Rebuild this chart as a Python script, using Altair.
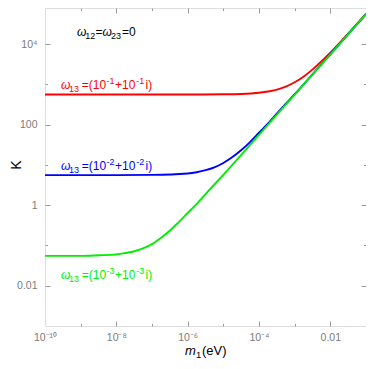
import altair as alt
import pandas as pd

# ---- data (m1 in eV, K) ----
red_m = [1e-10, 1e-6, 1e-5, 3.2e-5, 1e-4, 1.8e-4, 3.2e-4, 5.6e-4, 1e-3, 1.8e-3, 3.2e-3, 5.6e-3, 1e-2, 1.8e-2, 3.2e-2, 1e-1]
red_K = [562, 562, 568, 580, 620, 665, 745, 880, 1130, 1580, 2360, 3700, 6150, 10600, 18500, 56600]

blue_m = [1e-10, 1e-8, 1e-7, 1e-6, 1.8e-6, 3.2e-6, 5.6e-6, 1e-5, 1.8e-5, 3.2e-5, 5.6e-5, 1e-4, 1.8e-4, 3.2e-4, 5.6e-4, 1e-3, 3.2e-3, 1e-2, 1e-1]
blue_K = [5.6, 5.6, 5.66, 6.15, 6.6, 7.4, 8.7, 11.2, 15.7, 23.5, 37, 63, 108, 190, 328, 570, 1800, 5610, 56000]

green_m = [1e-10, 1e-9, 3.2e-9, 1e-8, 1.8e-8, 3.2e-8, 5.6e-8, 1e-7, 1.8e-7, 3.2e-7, 5.6e-7, 1e-6, 1.8e-6, 3.2e-6, 1e-5, 1e-4, 1e-3, 1e-2, 1e-1]
green_K = [0.055, 0.055, 0.057, 0.060, 0.065, 0.072, 0.085, 0.108, 0.155, 0.235, 0.38, 0.64, 1.08, 1.9, 5.7, 56, 560, 5600, 56000]

x_label_values = [1e-10, 1e-8, 1e-6, 1e-4, 1e-2]
y_label_values = [0.01, 1, 100, 1e4]
x_tick_values = [1e-9, 1e-8, 1e-7, 1e-6, 1e-5, 1e-4, 1e-3, 1e-2]
y_tick_values = [1e-2, 1e-1, 1, 10, 100, 1e3, 1e4]

# rich-text labels: (text, kind) with kind in base / ital / sub / sup
label_red = [("ω", "ital"), ("13", "sub"), ("=(10", "base"), ("-1", "sup"), ("+10", "base"), ("-1", "sup"), ("i)", "base")]
label_blue = [("ω", "ital"), ("13", "sub"), ("=(10", "base"), ("-2", "sup"), ("+10", "base"), ("-2", "sup"), ("i)", "base")]
label_green = [("ω", "ital"), ("13", "sub"), ("=(10", "base"), ("-3", "sup"), ("+10", "base"), ("-3", "sup"), ("i)", "base")]
label_top = [("ω", "ital"), ("12", "sub"), ("=", "base"), ("ω", "ital"), ("23", "sub"), ("=0", "base")]
x_title = [("m", "ital"), ("1", "sub"), ("(eV)", "base")]
y_title = "K"

# layout (pixel offsets of each piece)
curve_dx = [0, 8, 20.7, 45.5, 54, 75.2, 84.5]
top_dx = [0, 8.3, 18.5, 25.5, 34, 45]
xt_dx = [0, 11, 17]

RED, BLUE, GREEN = "#ff0000", "#0000ff", "#00ee00"
FRAME = "#9a9a9a"
LAB = "#7a7a7a"
FONT = "Liberation Sans"
W, H = 321, 318
X_DOM = [1e-10, 1e-1]
Y_DOM = [1e-3, 7.9e4]

rows = []
for name, ms, ks in [("r", red_m, red_K), ("b", blue_m, blue_K), ("g", green_m, green_K)]:
    for i, (m, k) in enumerate(zip(ms, ks)):
        rows.append({"s": name, "m": m, "K": k, "i": i})
df = pd.DataFrame(rows)

xs = alt.Scale(type="log", domain=X_DOM, nice=False)
ys = alt.Scale(type="log", domain=Y_DOM, nice=False)

x_lab_expr = ("datum.value < 3e-10 ? '10⁻¹⁰' : datum.value < 3e-8 ? '10⁻⁸' : "
              "datum.value < 3e-6 ? '10⁻⁶' : datum.value < 3e-4 ? '10⁻⁴' : '0.01'")
y_lab_expr = ("datum.value > 1000 ? '10⁴' : datum.value > 10 ? '100' : "
              "datum.value > 0.1 ? '1' : '0.01'")

x_label_axis = alt.Axis(values=x_label_values, labelExpr=x_lab_expr, ticks=False, domain=False,
                        grid=False, title=None, labelColor=LAB, labelFont=FONT, labelFontSize=10.5,
                        labelPadding=6, labelFlush=False, labelOverlap=False)
y_label_axis = alt.Axis(values=y_label_values, labelExpr=y_lab_expr, ticks=False, domain=False,
                        grid=False, title=None, labelColor=LAB, labelFont=FONT, labelFontSize=10.5,
                        labelPadding=8, labelOverlap=False)

tick_cond = {"condition": {"test": "round(log(datum.value)/LN10) % 2 == 0", "value": 5}, "value": 2.5}


def tick_axis(values, orient, offset):
    return alt.Axis(values=values, orient=orient, offset=offset, labels=False, domain=False,
                    grid=False, title=None, tickColor=FRAME, tickWidth=1, tickSize=tick_cond)


def line_layer(name, color, xaxis=None, yaxis=None):
    return alt.Chart(df).transform_filter(alt.datum.s == name).mark_line(
        color=color, strokeWidth=1.9, interpolate="monotone", clip=True
    ).encode(
        x=alt.X("m:Q", scale=xs, axis=xaxis),
        y=alt.Y("K:Q", scale=ys, axis=yaxis),
        order="i:Q",
    )


def ghost_layer(xaxis, yaxis):
    return alt.Chart(df).mark_line(opacity=0).encode(
        x=alt.X("m:Q", scale=xs, axis=xaxis),
        y=alt.Y("K:Q", scale=ys, axis=yaxis),
        detail="s:N",
    )


def txt(text, x, y, color, size, style="normal", angle=0, align="left", baseline="alphabetic"):
    return alt.Chart(pd.DataFrame({"t": [text]})).mark_text(
        align=align, baseline=baseline, fontSize=size, fontStyle=style, font=FONT,
        color=color, angle=angle
    ).encode(x=alt.value(x), y=alt.value(y), text="t:N")


def rich(pieces, dxs, x0, y0, color, base=12, small=9, ital=12):
    out = []
    for (t, kind), dx in zip(pieces, dxs):
        if kind == "ital":
            out.append(txt(t, x0 + dx, y0, color, ital, "italic"))
        elif kind == "sub":
            out.append(txt(t, x0 + dx, y0 + 3, color, small))
        elif kind == "sup":
            out.append(txt(t, x0 + dx, y0 - 5, color, small))
        else:
            out.append(txt(t, x0 + dx, y0, color, base))
    return out


layers = [
    ghost_layer(x_label_axis, y_label_axis),
    ghost_layer(tick_axis(x_tick_values, "top", -H), tick_axis(y_tick_values, "right", -W)),
    ghost_layer(tick_axis(x_tick_values, "bottom", -H), tick_axis(y_tick_values, "left", -W)),
    line_layer("r", RED),
    line_layer("b", BLUE),
    line_layer("g", GREEN),
]
layers += rich(label_red, curve_dx, 16, 80.5, RED)
layers += rich(label_blue, curve_dx, 16, 162, BLUE)
layers += rich(label_green, curve_dx, 16, 271, GREEN)
layers += rich(label_top, top_dx, 32, 28, "black")
layers += rich(x_title, xt_dx, 140, 347, "black", base=13, small=9.5, ital=13)
layers.append(txt(y_title, -28.5, 157, "black", 14, angle=270, align="center", baseline="middle"))

chart = alt.layer(*layers).resolve_axis(x="independent", y="independent").properties(
    width=W, height=H, autosize="none",
    padding={"left": 37, "top": 0, "right": 0, "bottom": 33},
).configure_view(stroke=FRAME, strokeWidth=1).configure(background="white")

chart.save("out.html", embed_options={"renderer": "svg", "actions": False})
